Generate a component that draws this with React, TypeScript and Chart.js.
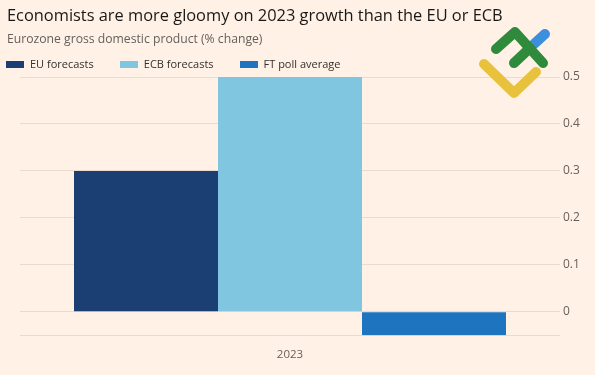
import React, { useEffect, useRef } from "react";
import { Chart, registerables } from "chart.js";

Chart.register(...registerables);

const categories = ["2023"];
const seriesNames = ["EU forecasts", "ECB forecasts", "FT poll average"];
const euValues = [0.3];
const ecbValues = [0.5];
const ftValues = [-0.05];
const seriesColors = ["#1b3f73", "#80c6e1", "#1f74c0"];
const yTicks = [0, 0.1, 0.2, 0.3, 0.4, 0.5];

const titleText = "Economists are more gloomy on 2023 growth than the EU or ECB";
const subtitleText = "Eurozone gross domestic product (% change)";

const FONT = "'Open Sans', 'Noto Sans', sans-serif";

const logoPlugin = {
  id: "logo",
  afterDraw(chart: any) {
    const ctx = chart.ctx;
    ctx.save();
    ctx.lineCap = "round";
    ctx.lineJoin = "round";
    ctx.lineWidth = 10;
    // yellow V
    ctx.strokeStyle = "#e8c23c";
    ctx.beginPath();
    ctx.moveTo(484, 64);
    ctx.lineTo(514, 93);
    ctx.lineTo(536, 72);
    ctx.stroke();
    // blue stroke
    ctx.strokeStyle = "#3b8fdc";
    ctx.beginPath();
    ctx.moveTo(534, 44);
    ctx.lineTo(545, 34);
    ctx.stroke();
    // green
    ctx.strokeStyle = "#2f8a3b";
    ctx.beginPath();
    ctx.moveTo(496, 49);
    ctx.lineTo(515, 32);
    ctx.lineTo(543, 63);
    ctx.stroke();
    ctx.beginPath();
    ctx.moveTo(514, 63);
    ctx.lineTo(530, 48);
    ctx.stroke();
    ctx.restore();
  },
};

export default function App() {
  const canvasRef = useRef<HTMLCanvasElement | null>(null);

  useEffect(() => {
    document.body.style.margin = "0";
    const canvas = canvasRef.current;
    if (!canvas) return;
    const values = [euValues, ecbValues, ftValues];
    const chart = new Chart(canvas, {
      type: "bar",
      data: {
        labels: categories,
        datasets: seriesNames.map((name, i) => ({
          label: name,
          data: values[i],
          backgroundColor: seriesColors[i],
          borderWidth: 0,
          categoryPercentage: 0.8,
          barPercentage: 1,
          yAxisID: "y",
        })),
      },
      options: {
        animation: false,
        responsive: false,
        maintainAspectRatio: false,
        layout: { padding: { top: 77, left: 0, right: 0, bottom: 0 } },
        plugins: {
          legend: { display: false },
          title: { display: false },
          tooltip: { enabled: false },
        },
        scales: {
          x: {
            grid: { display: false, drawTicks: false },
            border: { display: false },
            ticks: {
              color: "#66605c",
              font: { family: FONT, size: 11.5 },
              padding: 13,
            },
          },
          yLeft: {
            type: "linear",
            position: "left",
            display: true,
            grid: { display: false, drawTicks: false },
            border: { display: false },
            ticks: { display: false },
            afterFit: (scale: any) => {
              scale.width = 20;
            },
          },
          y: {
            type: "linear",
            position: "right",
            min: -0.05,
            max: 0.5,
            afterBuildTicks: (scale: any) => {
              scale.ticks = [-0.05, ...yTicks].map((v) => ({ value: v }));
            },
            grid: { color: "#e8dbcf", drawTicks: false, lineWidth: 1 },
            border: { display: false },
            ticks: {
              color: "#66605c",
              font: { family: FONT, size: 12 },
              padding: 3,
              crossAlign: "near",
              callback: (v: any) => (Number(v) < 0 ? "" : String(Math.round(Number(v) * 10) / 10)),
            },
            afterFit: (scale: any) => {
              scale.width = 35;
            },
          },
        },
      } as any,
      plugins: [logoPlugin],
    });
    return () => chart.destroy();
  }, []);

  return (
    <div
      style={{
        position: "relative",
        width: 595,
        height: 375,
        background: "#fff1e5",
        overflow: "hidden",
      }}
    >
      <canvas ref={canvasRef} width={595} height={375} style={{ position: "absolute", left: 0, top: 0 }} />
      <div
        style={{
          position: "absolute",
          left: 7,
          top: 4,
          fontFamily: FONT,
          fontSize: 16.4,
          color: "#1a1817",
          whiteSpace: "nowrap",
          lineHeight: "22px",
        }}
      >
        {titleText}
      </div>
      <div
        style={{
          position: "absolute",
          left: 7,
          top: 31,
          fontFamily: FONT,
          fontSize: 12.2,
          color: "#66605c",
          whiteSpace: "nowrap",
          lineHeight: "16px",
        }}
      >
        {subtitleText}
      </div>
      <div
        style={{
          position: "absolute",
          left: 6,
          top: 56,
          display: "flex",
          alignItems: "center",
          gap: 26,
          height: 16,
          fontFamily: FONT,
          fontSize: 11,
          color: "#33302e",
          whiteSpace: "nowrap",
        }}
      >
        {seriesNames.map((name, i) => (
          <div key={name} style={{ display: "flex", alignItems: "center" }}>
            <span
              style={{
                display: "inline-block",
                width: 18,
                height: 7,
                background: seriesColors[i],
                marginRight: 6,
              }}
            />
            <span style={{ lineHeight: "16px" }}>{name}</span>
          </div>
        ))}
      </div>
    </div>
  );
}
